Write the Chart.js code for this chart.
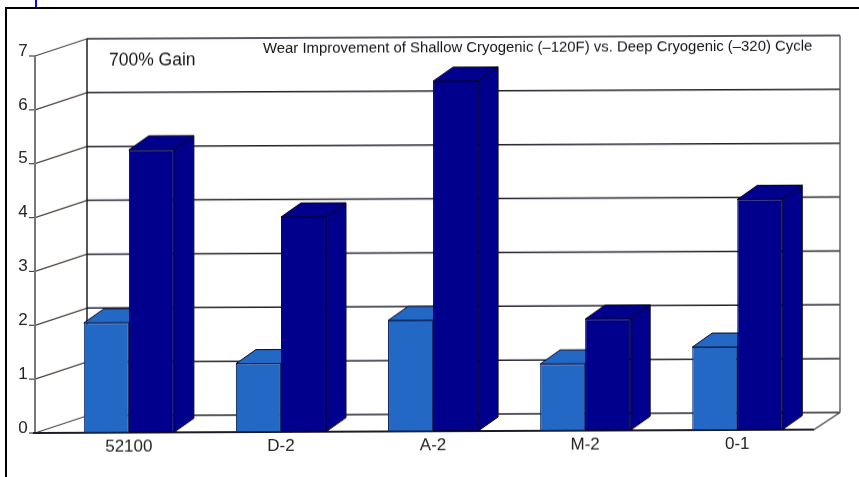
<!DOCTYPE html>
<html>
<head>
<meta charset="utf-8">
<style>
  html, body { margin: 0; padding: 0; background: #fff; overflow: hidden; }
  #page { position: relative; width: 859px; height: 477px; overflow: hidden; }
  #frame-top { position: absolute; left: 5px; top: 7px; width: 854px; height: 2px; background: #000; }
  #frame-left { position: absolute; left: 5px; top: 7px; width: 2px; height: 470px; background: #000; }
  #link-mark { position: absolute; left: 35px; top: 0; width: 2px; height: 7px; background: #0a0ae0; }
  /* the scan is very slightly tilted, the whole plot climbs to the right */
  #wear-chart { position: absolute; left: 0; top: 0; transform: skewY(-0.25deg); transform-origin: 35px 433px; }
</style>
<script src="https://cdn.jsdelivr.net/npm/chart.js@4/dist/chart.umd.min.js"></script>
</head>
<body>
<div id="page">
  <div id="link-mark"></div>
  <div id="frame-top"></div>
  <div id="frame-left"></div>
  <canvas id="wear-chart" width="859" height="477"></canvas>
</div>
<script>
const categories = ["52100", "D-2", "A-2", "M-2", "0-1"];
const shallowCycle = [2.04, 1.27, 2.06, 1.24, 1.54];
const deepCycle = [5.25, 3.99, 6.5, 2.07, 4.28];
const gridValues = [0, 1, 2, 3, 4, 5, 6, 7];

const chartTitle = "Wear Improvement of Shallow Cryogenic (\u2013120F) vs. Deep Cryogenic (\u2013320) Cycle";
const gainNote = "700% Gain";

const lightBlue = "#2468c6";
const darkBlue = "#00008c";
const fontName = "'Liberation Sans', Arial, sans-serif";

// front plane of the fake 3d box
const axisX = 35;
const floorRight = 814;
// how far the back wall sits behind the front plane
const wallDx = 52;
const wallDy = -17;
const wallRight = 840;
// depth of the bars
const barDx = 20;
const barDy = -14;

function line(ctx, x1, y1, x2, y2, color, width) {
    ctx.beginPath();
    ctx.moveTo(x1, y1);
    ctx.lineTo(x2, y2);
    ctx.strokeStyle = color;
    ctx.lineWidth = width;
    ctx.stroke();
}

function face(ctx, pts, fill) {
    ctx.beginPath();
    ctx.moveTo(pts[0][0], pts[0][1]);
    for (let i = 1; i < pts.length; i++) {
        ctx.lineTo(pts[i][0], pts[i][1]);
    }
    ctx.closePath();
    ctx.fillStyle = fill;
    ctx.fill();
    ctx.strokeStyle = "#060620";
    ctx.lineWidth = 1;
    ctx.stroke();
}

function drawDepth(chart, datasetIndex, color) {
    const ctx = chart.ctx;
    chart.getDatasetMeta(datasetIndex).data.forEach(bar => {
        const left = bar.x - bar.width / 2;
        const right = bar.x + bar.width / 2;
        const top = bar.y;
        const bottom = bar.base;
        face(ctx, [[right, top], [right + barDx, top + barDy], [right + barDx, bottom + barDy], [right, bottom]], color);
        face(ctx, [[left, top], [left + barDx, top + barDy], [right + barDx, top + barDy], [right, top]], color);
    });
}

const box3d = {
    id: "box3d",
    beforeDatasetsDraw(chart) {
        const ctx = chart.ctx;
        const y = chart.scales.y;
        const backX = axisX + wallDx;
        ctx.save();

        gridValues.forEach(v => {
            const py = y.getPixelForValue(v);
            // side wall, tick and back wall lines
            line(ctx, axisX, py, backX, py + wallDy, "#4e453e", 1.3);
            line(ctx, axisX - 6, py, axisX, py, "#444", 1.2);
            line(ctx, backX, py + wallDy, wallRight, py + wallDy, "#22222e", 1.5);
        });

        const zero = y.getPixelForValue(0);
        const top = y.getPixelForValue(7);
        line(ctx, axisX, zero, axisX, top, "#77777c", 2);
        line(ctx, backX, zero + wallDy, backX, top + wallDy, "#111", 1.4);
        line(ctx, wallRight, zero + wallDy, wallRight, top + wallDy, "#55555c", 1.4);
        line(ctx, floorRight, zero, wallRight, zero + wallDy, "#4a423c", 1.4);
        line(ctx, axisX - 2, zero, floorRight, zero, "#1c1c26", 2);

        drawDepth(chart, 0, lightBlue);
        drawDepth(chart, 1, darkBlue);

        ctx.fillStyle = "#151515";
        ctx.textBaseline = "middle";
        ctx.textAlign = "left";
        ctx.font = "17.5px " + fontName;
        ctx.fillText(gainNote, 109, 61);
        ctx.font = "14.9px " + fontName;
        ctx.fillText(chartTitle, 263, 50);
        ctx.restore();
    }
};

new Chart(document.getElementById("wear-chart"), {
    type: "bar",
    data: {
        labels: categories,
        datasets: [
            {
                label: "Shallow",
                data: shallowCycle,
                backgroundColor: lightBlue,
                borderColor: "#0c2a5c",
                borderWidth: 1,
                borderSkipped: false
            },
            {
                label: "Deep",
                data: deepCycle,
                backgroundColor: darkBlue,
                borderColor: "#03031a",
                borderWidth: 1,
                borderSkipped: false
            }
        ]
    },
    options: {
        responsive: false,
        animation: false,
        layout: {
            padding: { top: 56, right: 45.7, bottom: 0, left: 0 }
        },
        plugins: {
            legend: { display: false },
            title: { display: false },
            tooltip: { enabled: false }
        },
        scales: {
            x: {
                afterFit: s => { s.height = 44; },
                border: { display: false },
                grid: { display: false, drawTicks: false },
                ticks: {
                    color: "#222",
                    padding: 4,
                    maxRotation: 0,
                    font: { family: fontName, size: 17 }
                }
            },
            y: {
                min: 0,
                max: 7,
                afterFit: s => { s.width = 52.8; },
                border: { display: false },
                grid: { display: false, drawTicks: false },
                ticks: {
                    stepSize: 1,
                    color: "#222",
                    padding: 25,
                    labelOffset: -5,
                    font: { family: fontName, size: 17 }
                }
            }
        },
        datasets: {
            bar: { categoryPercentage: 0.592, barPercentage: 1 }
        }
    },
    plugins: [box3d]
});
</script>
</body>
</html>
